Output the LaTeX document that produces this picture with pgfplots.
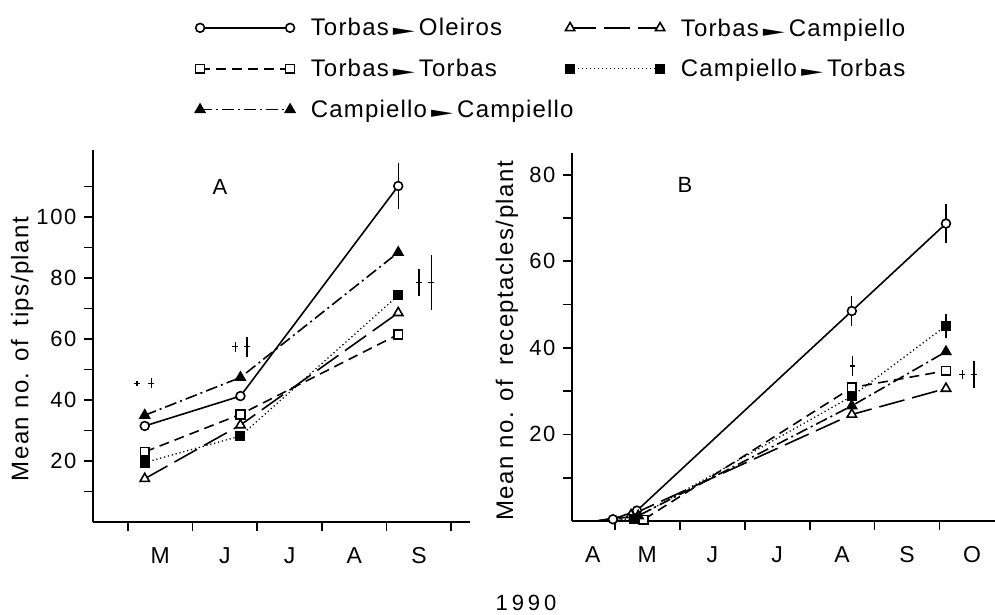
\documentclass[border=0pt]{standalone}
\usepackage{fontspec}
\setmainfont{Liberation Sans}[LetterSpace=18]
\newfontfamily\tickfont{Liberation Sans}[LetterSpace=7]
\newfontfamily\labfont{Liberation Sans}[LetterSpace=6]
\newfontfamily\legfont{Liberation Sans}[LetterSpace=5]
\newfontfamily\arrfont{DejaVu Sans}
\usepackage{graphicx}
\usepackage{pgfplots}
\pgfplotsset{compat=1.18}
\newcommand{\ar}{\,{\arrfont\scalebox{1.2}[0.6]{►}}\,}
\pgfplotsset{
 s1/.style={black, line width=0.8pt, solid, mark=*, mark size=2.2pt, mark options={solid, fill=white}},
 s2/.style={black, line width=0.8pt, dash pattern=on 13pt off 4pt, mark=triangle*, mark size=2.7pt, mark options={solid, fill=white}},
 s3/.style={black, line width=0.8pt, dash pattern=on 5pt off 3pt, mark=square*, mark size=2.2pt, mark options={solid, fill=white}},
 s4/.style={black, line width=0.65pt, dash pattern=on 0.6pt off 1.4pt, mark=square*, mark size=2.2pt, mark options={solid, fill=black}},
 s5/.style={black, line width=0.8pt, dash pattern=on 6pt off 2pt on 1pt off 2pt, mark=triangle*, mark size=2.7pt, mark options={solid, fill=black}},
 eb/.style={error bars/y dir=both, error bars/y explicit, error bars/error mark=none,
   error bars/error bar style={solid, line width=0.6pt}},
 bars/.style={black, line width=0.6pt, only marks, mark=-, mark size=1.4pt, forget plot, eb},
 panel/.style={scale only axis, anchor=south west, clip=false,
   axis x line*=bottom, axis y line*=left,
   axis line style={line width=1pt},
   tick align=outside, major tick length=4.5pt, minor tick length=4.5pt,
   tick style={line width=0.9pt, black},
   tick label style={font=\fontsize{11}{13}\tickfont},
   xtick={0,...,5}, xticklabels={},
   xticklabel style={yshift=-9pt, font=\fontsize{11.5}{13}\selectfont},
   extra x tick style={major tick length=0pt},
   /pgf/number format/assume math mode=true,
   ylabel style={anchor=center, rotate=0, font=\fontsize{12}{14}\labfont},
   legend image code/.code={\draw[#1, mark indices={1,2}] plot coordinates {(0pt,0pt) (45pt,0pt)};},
   legend style={anchor=north west, draw=none, fill=none, inner sep=0pt,
     row sep=7pt, column sep=7pt, nodes={inner sep=1pt},
     font=\fontsize{12}{14}\legfont, cells={anchor=west}},
 },
}
\begin{document}
\fontsize{11}{13}\selectfont
\begin{tikzpicture}
\path[use as bounding box] (0pt,0pt) rectangle (497.5pt,307.5pt);
% Panel A
\begin{axis}[panel, at={(46.5pt,46.5pt)}, width=188.5pt, height=186pt,
  xmin=-0.54, xmax=5.29, ymin=0, ymax=122,
  ytick={20,40,60,80,100}, minor ytick={10,30,50,70,90,110},
  extra x ticks={0.5,1.5,2.5,3.5,4.5}, extra x tick labels={M,J,J,A,S},
  ylabel={Mean no. of \hspace{3pt}tips/plant},
  ylabel style={at={(axis description cs:-0.188,0.465)}},
  legend style={at={(axis description cs:0.2706,1.3656)}},
]
\addplot[s1, eb] coordinates {(0.26,31.5) +- (0,0) (1.74,41.3) +- (0,0) (4.18,110.2) +- (0,7.5)};
\addlegendentry{\strut Torbas\ar Oleiros}
\addplot[s2, forget plot] coordinates {(0.26,14.2) (1.74,31.8) (4.18,68.6)};
\addplot[s3] coordinates {(0.26,23.0) (1.74,35.3) (4.18,61.5)};
\addlegendentry{\strut Torbas\ar Torbas}
\addplot[s4, forget plot] coordinates {(0.26,19.5) (1.74,28.2) (4.18,74.3)};
\addplot[s5] coordinates {(0.26,35.0) (1.74,47.4) (4.18,88.4)};
\addlegendentry{\strut Campiello\ar Campiello}
\addplot[bars] coordinates {(0.14,45.5) +- (0,0.9) (0.36,45.5) +- (0,1.6)
  (1.66,57.5) +- (0,1.6) (1.84,57.5) +- (0,3.3)
  (4.50,78.6) +- (0,4.4) (4.69,78.6) +- (0,9.0)};
\node[font=\fontsize{11}{13}\selectfont] at (axis description cs:0.337,0.90) {A};
\end{axis}
% Panel B
\begin{axis}[panel, at={(286pt,47pt)}, width=211.5pt, height=183.8pt,
  xmin=-0.66, xmax=5.855, ymin=0, ymax=84.9,
  ytick={20,40,60,80}, minor ytick={10,30,50,70},
  extra x ticks={-0.34,0.5,1.5,2.5,3.5,4.5,5.5}, extra x tick labels={A,M,J,J,A,S,O},
  ylabel={Mean no. of \hspace{3pt}receptacles/plant},
  ylabel style={at={(axis description cs:-0.154,0.49)}},
  legend style={at={(axis description cs:-0.0165,1.3790)}},
]
\addplot[s1, eb, forget plot, mark indices={2,3,4,5}] coordinates {(-0.28,0) +- (0,0) (-0.03,0.4) +- (0,0) (0.34,2.4) +- (0,0) (3.65,48.5) +- (0,3.5) (5.1,68.7) +- (0,4.6)};
\addplot[s2, mark indices={2,3,4}] coordinates {(-0.28,0) (0.25,1.4) (3.65,24.6) (5.1,30.6)};
\addlegendentry{\strut Torbas\ar Campiello}
\addplot[s3, forget plot, mark indices={2,3,4}] coordinates {(-0.28,0) (0.44,0.3) (3.65,30.8) (5.1,34.7)};
\addplot[s4, eb, mark indices={2,3,4}] coordinates {(-0.28,0) +- (0,0) (0.30,0.5) +- (0,0) (3.65,28.8) +- (0,0) (5.1,45.1) +- (0,2.8)};
\addlegendentry{\strut Campiello\ar Torbas}
\addplot[s5, forget plot, mark indices={2,3,4}] coordinates {(-0.28,0) (0.36,1.2) (3.65,26.6) (5.1,39.1)};
\addplot[bars] coordinates {(3.66,35.8) +- (0,2.2) (5.35,33.8) +- (0,1.1) (5.53,33.8) +- (0,3.1)};
\node[font=\fontsize{11}{13}\selectfont] at (axis description cs:0.267,0.914) {B};
\end{axis}
\node at (263pt,6pt) {1990};
\end{tikzpicture}
\end{document}
